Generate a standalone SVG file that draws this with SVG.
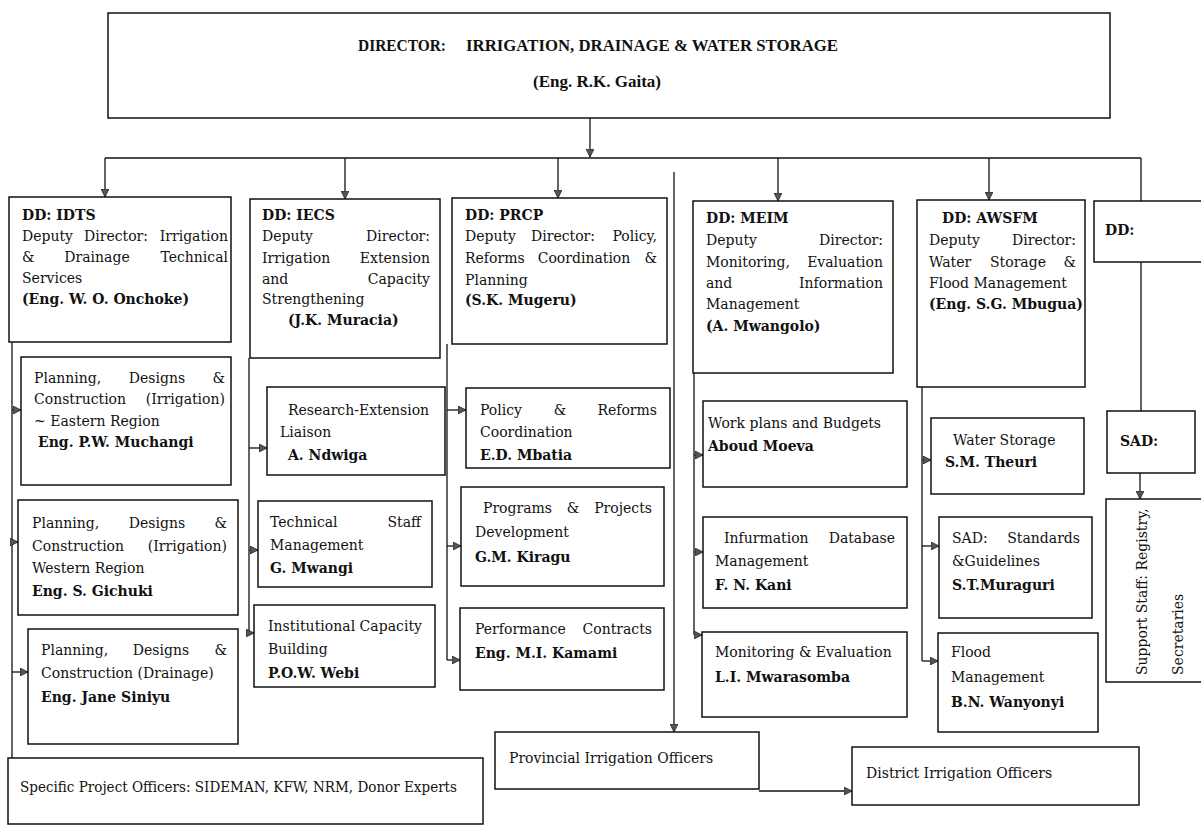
<svg xmlns="http://www.w3.org/2000/svg" width="1201" height="826" viewBox="0 0 1201 826">
  <defs>
    <style>
      .box{fill:#fff;stroke:#111;stroke-width:1.5}
      .ln{fill:none;stroke:#111;stroke-width:1.3}
      .arr{marker-end:url(#ah)}
      text{font-family:"DejaVu Serif","Liberation Serif",serif;font-size:14px;fill:#111}
      .b{font-weight:bold}
      .e{text-anchor:end}
      .m{text-anchor:middle}
      .ttl{font-family:"Liberation Serif","DejaVu Serif",serif;font-size:17px;font-weight:bold}
    </style>
    <marker id="ah" viewBox="0 0 10 10" refX="10" refY="5" markerWidth="8" markerHeight="8" markerUnits="userSpaceOnUse" orient="auto">
      <path d="M0,0 L10,5 L0,10 z" fill="#555" stroke="#222" stroke-width="1"/>
    </marker>
  </defs>
  <rect width="1201" height="826" fill="#fff"/>

  <!-- connectors -->
  <g id="connectors" class="ln">
    <path class="arr" d="M590,118 V157"/>
    <path d="M105,158 H1141"/>
    <path class="arr" d="M105,158 V197"/>
    <path class="arr" d="M345,158 V199"/>
    <path class="arr" d="M558,158 V198"/>
    <path class="arr" d="M778,158 V201"/>
    <path class="arr" d="M989,158 V200"/>
    <path d="M1141,158 V411"/>
    <path class="arr" d="M674,172 V732"/>
    <!-- IDTS branch -->
    <path d="M12,342 V758"/>
    <path class="arr" d="M12,410 H21"/>
    <path class="arr" d="M12,542 H18"/>
    <path class="arr" d="M12,672 H28"/>
    <!-- IECS branch -->
    <path d="M249,358 V633"/>
    <path class="arr" d="M249,448 H267"/>
    <path class="arr" d="M249,550 H258"/>
    <path class="arr" d="M249,633 H254"/>
    <!-- PRCP branch -->
    <path d="M447,344 V660"/>
    <path class="arr" d="M447,410 H466"/>
    <path class="arr" d="M447,546 H461"/>
    <path class="arr" d="M447,660 H460"/>
    <!-- MEIM branch -->
    <path d="M694,373 V635"/>
    <path class="arr" d="M694,455 H703"/>
    <path class="arr" d="M694,552 H703"/>
    <path class="arr" d="M694,635 H702"/>
    <!-- AWSFM branch -->
    <path d="M922,387 V661"/>
    <path class="arr" d="M922,460 H931"/>
    <path class="arr" d="M922,546 H939"/>
    <path class="arr" d="M922,661 H938"/>
    <!-- support staff, district -->
    <path class="arr" d="M1140,473 V499"/>
    <path class="arr" d="M759,791 H852"/>
  </g>

  <!-- director -->
  <g id="director">
    <rect class="box" x="108" y="13" width="1002" height="105"/>
    <text class="ttl" x="358" y="51" textLength="88" lengthAdjust="spacingAndGlyphs">DIRECTOR:</text>
    <text class="ttl" x="466" y="51" textLength="372" lengthAdjust="spacingAndGlyphs">IRRIGATION, DRAINAGE &amp; WATER STORAGE</text>
    <text class="ttl m" x="597" y="87">(Eng. R.K. Gaita)</text>
  </g>

  <!-- DD: IDTS -->
  <g id="dd-idts">
    <rect class="box" x="9" y="197" width="222" height="145"/>
    <text class="b" x="22" y="220">DD: IDTS</text>
    <text x="22" y="241">Deputy</text><text class="m" x="116" y="241">Director:</text><text class="e" x="228" y="241">Irrigation</text>
    <text x="22" y="262">&amp;</text><text class="m" x="97" y="262">Drainage</text><text class="e" x="228" y="262">Technical</text>
    <text x="22" y="283">Services</text>
    <text class="b" x="22" y="304">(Eng. W. O. Onchoke)</text>
  </g>
  <g id="pdc-eastern">
    <rect class="box" x="21" y="357" width="210" height="128"/>
    <text x="34" y="383">Planning,</text><text class="m" x="157" y="383">Designs</text><text class="e" x="225" y="383">&amp;</text>
    <text x="34" y="404">Construction</text><text class="e" x="225" y="404">(Irrigation)</text>
    <text x="34" y="426">~ Eastern Region</text>
    <text class="b" x="38" y="447">Eng. P.W. Muchangi</text>
  </g>
  <g id="pdc-western">
    <rect class="box" x="18" y="500" width="220" height="115"/>
    <text x="32" y="528">Planning,</text><text class="m" x="157" y="528">Designs</text><text class="e" x="227" y="528">&amp;</text>
    <text x="32" y="551">Construction</text><text class="e" x="227" y="551">(Irrigation)</text>
    <text x="32" y="573">Western Region</text>
    <text class="b" x="32" y="596">Eng. S. Gichuki</text>
  </g>
  <g id="pdc-drainage">
    <rect class="box" x="28" y="629" width="210" height="115"/>
    <text x="41" y="655">Planning,</text><text class="m" x="161" y="655">Designs</text><text class="e" x="227" y="655">&amp;</text>
    <text x="41" y="678">Construction (Drainage)</text>
    <text class="b" x="41" y="702">Eng. Jane Siniyu</text>
  </g>
  <g id="project-officers">
    <rect class="box" x="8" y="758" width="475" height="66"/>
    <text x="20" y="792" textLength="437" lengthAdjust="spacingAndGlyphs">Specific Project Officers: SIDEMAN, KFW, NRM, Donor Experts</text>
  </g>

  <!-- DD: IECS -->
  <g id="dd-iecs">
    <rect class="box" x="250" y="199" width="190" height="159"/>
    <text class="b" x="262" y="220">DD: IECS</text>
    <text x="262" y="241">Deputy</text><text class="e" x="430" y="241">Director:</text>
    <text x="262" y="263">Irrigation</text><text class="e" x="430" y="263">Extension</text>
    <text x="262" y="284">and</text><text class="e" x="430" y="284">Capacity</text>
    <text x="262" y="304">Strengthening</text>
    <text class="b" x="288" y="325">(J.K. Muracia)</text>
  </g>
  <g id="research-extension">
    <rect class="box" x="267" y="387" width="178" height="88"/>
    <text x="288" y="415">Research-Extension</text>
    <text x="280" y="437">Liaison</text>
    <text class="b" x="288" y="460">A. Ndwiga</text>
  </g>
  <g id="technical-staff">
    <rect class="box" x="258" y="501" width="174" height="86"/>
    <text x="270" y="527">Technical</text><text class="e" x="421" y="527">Staff</text>
    <text x="270" y="550">Management</text>
    <text class="b" x="270" y="573">G. Mwangi</text>
  </g>
  <g id="institutional-capacity">
    <rect class="box" x="254" y="605" width="181" height="82"/>
    <text x="268" y="631" textLength="154" lengthAdjust="spacing">Institutional Capacity</text>
    <text x="268" y="654">Building</text>
    <text class="b" x="268" y="678">P.O.W. Webi</text>
  </g>

  <!-- DD: PRCP -->
  <g id="dd-prcp">
    <rect class="box" x="452" y="198" width="215" height="146"/>
    <text class="b" x="465" y="220">DD: PRCP</text>
    <text x="465" y="241">Deputy</text><text class="m" x="563" y="241">Director:</text><text class="e" x="657" y="241">Policy,</text>
    <text x="465" y="263">Reforms</text><text class="m" x="584" y="263">Coordination</text><text class="e" x="657" y="263">&amp;</text>
    <text x="465" y="285">Planning</text>
    <text class="b" x="465" y="305">(S.K. Mugeru)</text>
  </g>
  <g id="policy-reforms">
    <rect class="box" x="466" y="388" width="204" height="80"/>
    <text x="480" y="415">Policy</text><text class="m" x="560" y="415">&amp;</text><text class="e" x="657" y="415">Reforms</text>
    <text x="480" y="437">Coordination</text>
    <text class="b" x="480" y="460">E.D. Mbatia</text>
  </g>
  <g id="programs-projects">
    <rect class="box" x="461" y="487" width="203" height="99"/>
    <text x="483" y="513">Programs</text><text class="m" x="573" y="513">&amp;</text><text class="e" x="652" y="513">Projects</text>
    <text x="475" y="537">Development</text>
    <text class="b" x="475" y="562">G.M. Kiragu</text>
  </g>
  <g id="performance-contracts">
    <rect class="box" x="460" y="608" width="204" height="82"/>
    <text x="475" y="634">Performance</text><text class="e" x="652" y="634">Contracts</text>
    <text class="b" x="475" y="658">Eng. M.I. Kamami</text>
  </g>

  <!-- field officers -->
  <g id="provincial-officers">
    <rect class="box" x="495" y="732" width="264" height="57"/>
    <text x="509" y="763">Provincial Irrigation Officers</text>
  </g>
  <g id="district-officers">
    <rect class="box" x="852" y="747" width="287" height="58"/>
    <text x="866" y="778">District Irrigation Officers</text>
  </g>

  <!-- DD: MEIM -->
  <g id="dd-meim">
    <rect class="box" x="693" y="201" width="200" height="172"/>
    <text class="b" x="706" y="223">DD: MEIM</text>
    <text x="706" y="245">Deputy</text><text class="e" x="883" y="245">Director:</text>
    <text x="706" y="267">Monitoring,</text><text class="e" x="883" y="267">Evaluation</text>
    <text x="706" y="288">and</text><text class="e" x="883" y="288">Information</text>
    <text x="706" y="309">Management</text>
    <text class="b" x="706" y="331">(A. Mwangolo)</text>
  </g>
  <g id="work-plans">
    <rect class="box" x="703" y="401" width="204" height="86"/>
    <text x="708" y="428">Work plans and Budgets</text>
    <text class="b" x="708" y="451">Aboud Moeva</text>
  </g>
  <g id="information-database">
    <rect class="box" x="703" y="517" width="204" height="91"/>
    <text x="724" y="543">Infurmation</text><text class="e" x="895" y="543">Database</text>
    <text x="715" y="566">Management</text>
    <text class="b" x="715" y="590">F. N. Kani</text>
  </g>
  <g id="monitoring-evaluation">
    <rect class="box" x="702" y="632" width="205" height="85"/>
    <text x="715" y="657">Monitoring &amp; Evaluation</text>
    <text class="b" x="715" y="682">L.I. Mwarasomba</text>
  </g>

  <!-- DD: AWSFM -->
  <g id="dd-awsfm">
    <rect class="box" x="917" y="200" width="168" height="187"/>
    <text class="b" x="942" y="223">DD: AWSFM</text>
    <text x="929" y="245">Deputy</text><text class="e" x="1076" y="245">Director:</text>
    <text x="929" y="267">Water</text><text class="m" x="1018" y="267">Storage</text><text class="e" x="1076" y="267">&amp;</text>
    <text x="929" y="288">Flood Management</text>
    <text class="b" x="929" y="309">(Eng. S.G. Mbugua)</text>
  </g>
  <g id="water-storage">
    <rect class="box" x="931" y="418" width="153" height="76"/>
    <text x="953" y="445">Water Storage</text>
    <text class="b" x="945" y="467">S.M. Theuri</text>
  </g>
  <g id="standards-guidelines">
    <rect class="box" x="939" y="517" width="153" height="101"/>
    <text x="952" y="543">SAD:</text><text class="e" x="1080" y="543">Standards</text>
    <text x="952" y="566">&amp;Guidelines</text>
    <text class="b" x="952" y="590">S.T.Muraguri</text>
  </g>
  <g id="flood-management">
    <rect class="box" x="938" y="633" width="160" height="99"/>
    <text x="951" y="657">Flood</text>
    <text x="951" y="682">Management</text>
    <text class="b" x="951" y="707">B.N. Wanyonyi</text>
  </g>

  <!-- DD (vacant), SAD, support staff -->
  <g id="dd-vacant">
    <rect class="box" x="1094" y="201" width="112" height="61"/>
    <text class="b" x="1105" y="235">DD:</text>
  </g>
  <g id="sad">
    <rect class="box" x="1107" y="411" width="88" height="62"/>
    <text class="b" x="1120" y="446">SAD:</text>
  </g>
  <g id="support-staff">
    <rect class="box" x="1106" y="499" width="100" height="183"/>
    <text transform="translate(1147,675) rotate(-90)">Support Staff: Registry,</text>
    <text transform="translate(1183,675) rotate(-90)">Secretaries</text>
  </g>
</svg>
